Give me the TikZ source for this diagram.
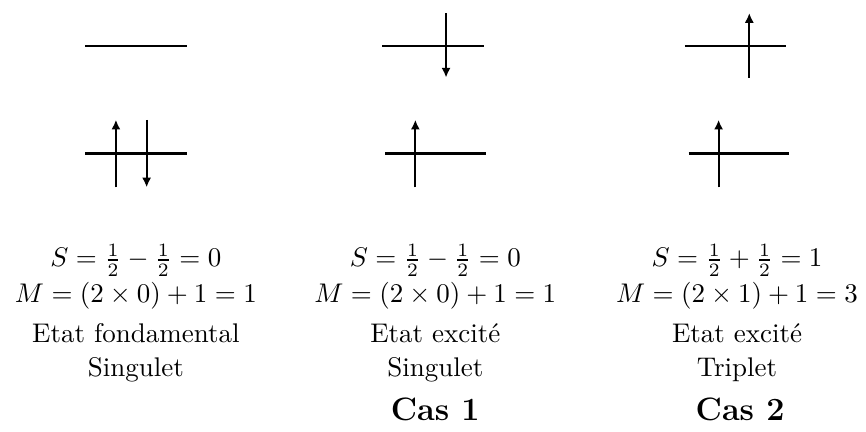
\documentclass[tikz,border=0pt]{standalone}
\usepackage{amsmath}
\usepackage{tikz}
\usetikzlibrary{arrows.meta}

\tikzset{
  level/.style={line width=0.8pt},
  spin/.style={line width=0.8pt, -{Latex[length=3.6pt,width=3.4pt]}},
  lbl/.style={inner sep=0pt, anchor=north, align=center}
}

\begin{document}
\begin{tikzpicture}

% page frame: 866x432 px, 1 px ~ 0.013 cm
\useasboundingbox (0,0) rectangle (11.28,-5.62);

%% ── energy levels (upper and lower orbital of each case) ─────────
\foreach \xa/\xb/\ya in {1.11/2.43/-0.60, 1.11/2.43/-2.00,
                         4.98/6.30/-0.60, 5.02/6.33/-2.00,
                         8.92/10.24/-0.60, 8.97/10.28/-2.00}{
  \draw[level] (\xa,\ya) -- (\xb,\ya);
}

%% ── electrons (spin up / spin down) ──────────────────────────────
% lower orbitals
\draw[spin] (1.51,-2.44) -- (1.51,-1.56);
\draw[spin] (1.91,-1.56) -- (1.91,-2.44);
\draw[spin] (5.41,-2.44) -- (5.41,-1.56);
\draw[spin] (9.36,-2.44) -- (9.36,-1.56);
% upper orbitals
\draw[spin] (5.81,-0.17) -- (5.81,-1.01);
\draw[spin] (9.76,-1.01) -- (9.76,-0.17);

%% ── spin and multiplicity ────────────────────────────────────────
\foreach \n/\xc/\sp/\mu in {a/1.77/{\frac{1}{2}-\frac{1}{2}=0}/{0)+1=1},
                            b/5.67/{\frac{1}{2}-\frac{1}{2}=0}/{0)+1=1},
                            c/9.60/{\frac{1}{2}+\frac{1}{2}=1}/{1)+1=3}}{
  \node[lbl] (spin\n) at (\xc,-3.17) {$S=\sp$\\[1.1pt]$M=(2\times\mu$};
}

%% ── state names ──────────────────────────────────────────────────
\foreach \n/\xc/\etat/\kind in {a/1.77/{Etat fondamental}/Singulet,
                                b/5.67/{Etat excité}/Singulet,
                                c/9.60/{Etat excité}/Triplet}{
  \node[lbl] (etat\n) at (\xc,-4.21) {\etat\\[0.5pt]\kind};
}

%% ── case labels ──────────────────────────────────────────────────
\node[lbl, anchor=center, font=\large\bfseries] (cas1) at (5.67,-5.33) {Cas 1};
\node[lbl, anchor=center, font=\large\bfseries] (cas2) at (9.64,-5.33) {Cas 2};

\end{tikzpicture}
\end{document}
